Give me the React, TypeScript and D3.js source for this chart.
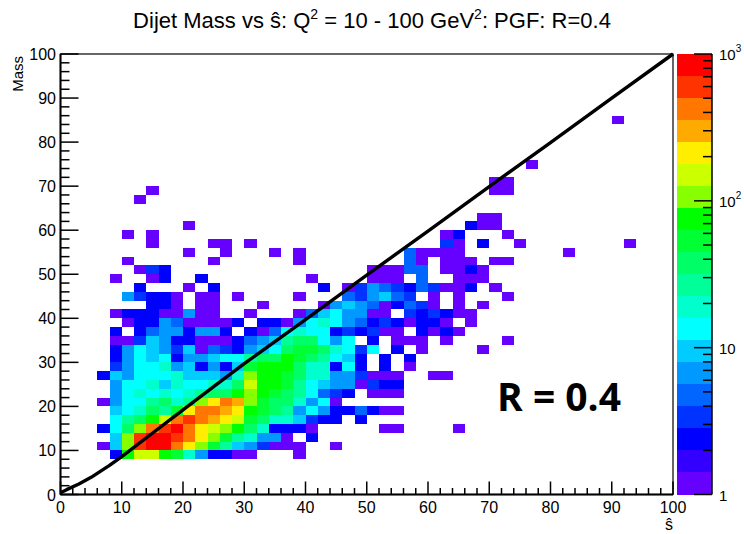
import React from "react";
import * as d3 from "d3";

const W = 744;
const H = 534;

const X_TICKS = d3.range(0, 101, 10);
const Y_TICKS = d3.range(0, 101, 10);
const MINOR_STEP = 2;
const BIN = 2;

const Z_MAJOR = [1, 10, 100, 1000];
const Z_LABELS: [string, string][] = [["1", ""], ["10", ""], ["10", "2"], ["10", "3"]];

const PALETTE = [
  "#6600ff", "#3300ff", "#0000ff", "#0033ff", "#0066ff",
  "#0099ff", "#00ccff", "#00ffff", "#00ffcc", "#00ff99",
  "#00ff66", "#00ff33", "#00ff00", "#88ff00", "#ccff00",
  "#ffee00", "#ffaa00", "#ff7700", "#ff3300", "#ff0000",
];

const LEVEL_CODES = "123456789abcdefghijk";

// [mass bin (width 2), first s-hat bin (width 2), count levels ('.' = empty)]
const ROWS: [number, number, string][] = [
  [42, 45, "1"],
  [37, 38, "1"],
  [35, 35, "11"],
  [34, 7, "1"], [34, 35, "11"],
  [33, 6, "1"],
  [31, 34, "11"],
  [30, 10, "1"], [30, 33, "311"],
  [29, 5, "1.1"], [29, 31, "13...1"],
  [28, 7, "1"], [28, 12, "11.1"], [28, 31, "41.3..1"], [28, 46, "1"],
  [27, 10, "1..1...1.1"], [27, 28, "51111"], [27, 41, "1"],
  [26, 5, "1"], [26, 12, "1"], [26, 19, "1"], [26, 28, "51.111.11"],
  [25, 6, "143"], [25, 25, "11155.1131"],
  [24, 4, "1..13..3"], [24, 20, "1....111.5..111"],
  [23, 6, "3...1.3"], [23, 21, "3.14654354113.1"],
  [22, 5, "64331.11.1"], [22, 19, "1...546754.1.1...1"],
  [21, 7, "331.11...1"], [21, 21, "1676513541.1.1"],
  [20, 4, "133311611..1"], [20, 19, "15786611.434311"],
  [19, 5, "1336511113.3316898653431331.1"],
  [18, 4, "3.35663663.3158988343411.3131"],
  [17, 4, "11476331113567abb868.3.111.1....1"],
  [16, 4, "36876471543678bccb9848.3.1....1"],
  [15, 4, "36878366788abbdcba873.3.3"],
  [14, 4, "46889673637cdddb99383.3.1"],
  [13, 3, "376888977769eddcb99664111..11"],
  [12, 4, "6889798899bfddca87661433"],
  [11, 4, "6898989abbdedcba8543.111"],
  [10, 3, "1688ab9aegihecbb9681"],
  [9, 4, "789bacgiihgdcba686335311"],
  [8, 4, "8abdfijihgfcb997433.3"],
  [7, 3, "38beijkigfedb93331"], [7, 26, "11"], [7, 32, "1"],
  [6, 4, "7ejkkjigeca9661.3"],
  [5, 3, "17ejkkigeca764111"], [5, 22, "1"],
  [4, 4, "3dffdc963311"], [4, 19, "1"],
];

const LINE_S = [0, 1, 3, 5, 8, 10, 15, 20, 25, 30, 40, 50, 60, 70, 80, 90, 100];
const LINE_M = [0.4, 1.1, 2.4, 3.9, 6.6, 8.6, 13.9, 19.2, 24.5, 29.7, 39.7, 49.8, 59.8, 69.9, 79.9, 90, 100];

type Cell = { s: number; m: number; count: number };

const CELLS: Cell[] = ROWS.flatMap(([mb, sb, codes]) =>
  codes.split("").flatMap((ch, k) => {
    const lvl = LEVEL_CODES.indexOf(ch) + 1;
    if (lvl <= 0) return [];
    return [{ s: (sb + k) * BIN, m: mb * BIN, count: Math.pow(10, ((lvl - 0.5) * 3) / 20) }];
  })
);

const FONT = "'Liberation Sans', Arial, Helvetica, sans-serif";

export default function App() {
  const x = d3.scaleLinear().domain([0, 100]).range([60.5, 673]);
  const y = d3.scaleLinear().domain([0, 100]).range([494.5, 54]);
  const color = d3.scaleQuantize<string>().domain([0, 3]).range(PALETTE);
  const z = d3.scaleLog().domain([1, 1000]).range([494.5, 54]);

  const minor = d3.range(0, 100.001, MINOR_STEP);
  const line = d3
    .line<number>()
    .x((_, i) => x(LINE_S[i]))
    .y((d) => y(d));

  const zMinor: number[] = [];
  [1, 10, 100].forEach((dec) => {
    for (let k = 2; k <= 9; k++) zMinor.push(dec * k);
  });

  const barX0 = 677;
  const barX1 = 712;
  const bands = d3.range(PALETTE.length).map((k) => ({
    lo: Math.pow(10, (k * 3) / PALETTE.length),
    hi: Math.pow(10, ((k + 1) * 3) / PALETTE.length),
    c: PALETTE[k],
  }));

  return (
    <svg
      width={W}
      height={H}
      style={{ position: "absolute", left: 0, top: 0, background: "#fff" }}
      fontFamily={FONT}
    >
      <rect width={W} height={H} fill="#fff" />
      {/* title */}
      <text x={372} y={28} textAnchor="middle" fontSize={22} fill="#000">
        Dijet Mass vs ŝ: Q
        <tspan dy={-9} fontSize={14}>2</tspan>
        <tspan dy={9}> = 10 - 100 GeV</tspan>
        <tspan dy={-9} fontSize={14}>2</tspan>
        <tspan dy={9}>: PGF: R=0.4</tspan>
      </text>

      {/* cells */}
      <g shapeRendering="crispEdges">
        {CELLS.map((c, i) => (
          <rect
            key={i}
            x={x(c.s)}
            y={y(c.m + BIN)}
            width={x(c.s + BIN) - x(c.s)}
            height={y(c.m) - y(c.m + BIN)}
            fill={color(Math.log10(c.count))}
          />
        ))}
      </g>

      {/* diagonal line */}
      <path d={line(LINE_M) || ""} fill="none" stroke="#000" strokeWidth={3.4} strokeLinejoin="round" />

      {/* frame */}
      <rect
        x={x(0)}
        y={y(100)}
        width={x(100) - x(0)}
        height={y(0) - y(100)}
        fill="none"
        stroke="#000"
        strokeWidth={1.2}
      />
      <line x1={x(0)} x2={x(0)} y1={y(0)} y2={y(100)} stroke="#000" strokeWidth={2} />
      <line x1={x(0)} x2={x(100)} y1={y(0)} y2={y(0)} stroke="#000" strokeWidth={2} />

      {/* ticks */}
      <g stroke="#000" strokeWidth={1.5}>
        {minor.map((v) => {
          const major = Math.abs(v % 10) < 1e-6;
          return <line key={"xt" + v} x1={x(v)} x2={x(v)} y1={y(0)} y2={y(0) - (major ? 13 : 6.5)} />;
        })}
        {minor.map((v) => {
          const major = Math.abs(v % 10) < 1e-6;
          return <line key={"yt" + v} x1={x(0)} x2={x(0) + (major ? 18 : 9)} y1={y(v)} y2={y(v)} />;
        })}
      </g>
      <g fontSize={16} fill="#000">
        {X_TICKS.map((v) => (
          <text key={"xl" + v} x={x(v)} y={513} textAnchor="middle">
            {v}
          </text>
        ))}
        {Y_TICKS.map((v) => (
          <text key={"yl" + v} x={56} y={y(v) + 6} textAnchor="end">
            {v}
          </text>
        ))}
      </g>
      <text x={x(100)} y={530} textAnchor="end" fontSize={16} fill="#000">
        ŝ
      </text>
      <text
        transform={`translate(${23},${y(100) + 2}) rotate(-90)`}
        textAnchor="end"
        fontSize={15}
        fill="#000"
      >
        Mass
      </text>

      {/* color bar */}
      <g shapeRendering="crispEdges">
        {bands.map((b, k) => (
          <rect key={k} x={barX0} y={z(b.hi)} width={barX1 - barX0} height={z(b.lo) - z(b.hi)} fill={b.c} />
        ))}
      </g>
      <line x1={barX1} x2={barX1} y1={z(1)} y2={z(1000)} stroke="#000" strokeWidth={1.5} />
      <g stroke="#000" strokeWidth={1.5}>
        {Z_MAJOR.map((v) => (
          <line key={"zM" + v} x1={barX1 - 18} x2={barX1} y1={z(v)} y2={z(v)} />
        ))}
        {zMinor.map((v) => (
          <line key={"zm" + v} x1={barX1 - 9} x2={barX1} y1={z(v)} y2={z(v)} />
        ))}
      </g>
      <g fontSize={15} fill="#000">
        {Z_MAJOR.map((v, i) => (
          <text key={"zl" + v} x={719} y={z(v) + 6}>
            {Z_LABELS[i][0]}
            {Z_LABELS[i][1] ? (
              <tspan dy={-8} fontSize={10}>
                {Z_LABELS[i][1]}
              </tspan>
            ) : null}
          </text>
        ))}
      </g>

      {/* annotation */}
      <text
        x={497}
        y={411}
        fontFamily="'Open Sans', 'Noto Sans', sans-serif"
        fontWeight="bold"
        fontSize={39}
        fill="#000"
      >
        R = 0.4
      </text>
    </svg>
  );
}
